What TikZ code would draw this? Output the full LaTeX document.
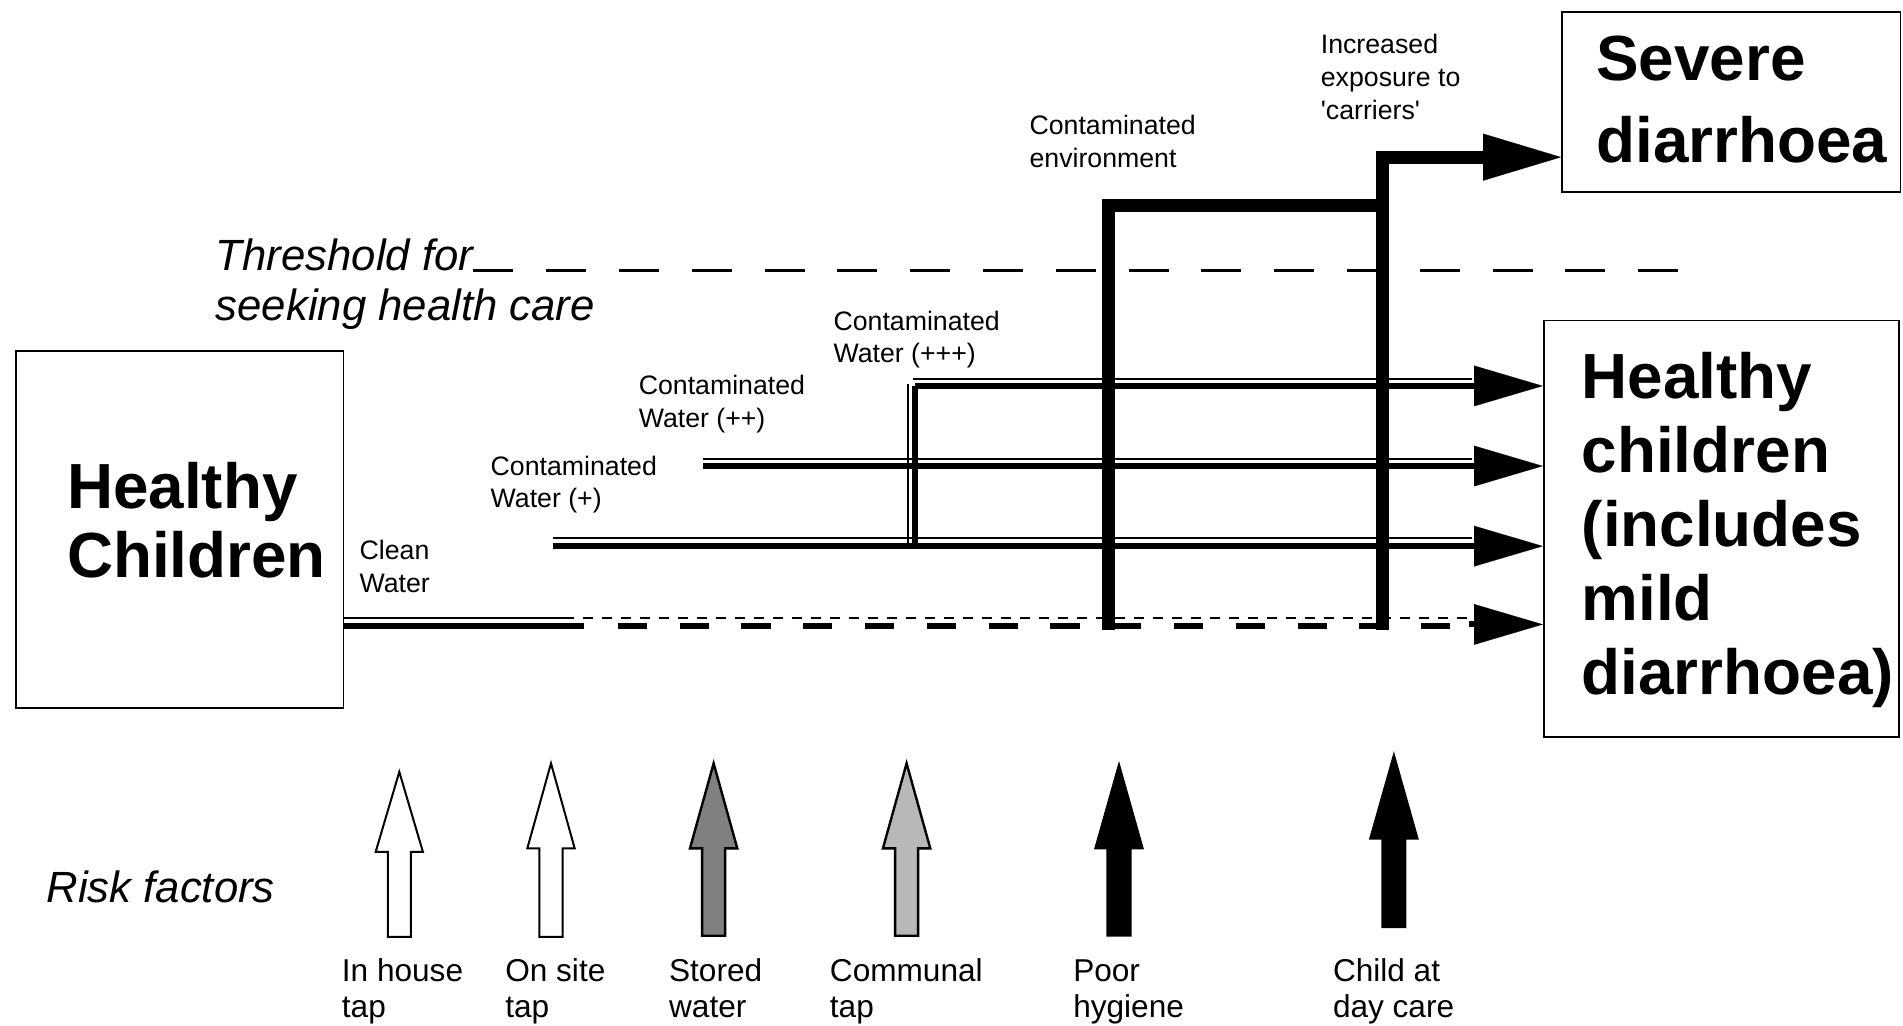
\documentclass[tikz,border=0pt]{standalone}
\usepackage{fontspec}
\setmainfont{Liberation Sans}
\usetikzlibrary{arrows.meta}
\newcommand\myu{0.60682pt}
\newcommand\riskarrow[5]{%
  \draw[#5] ({#1-9.5},#4) -- ({#1-9.5},#3) -- ({#1-19.5},#3) -- (#1,#2) -- ({#1+19.5},#3) -- ({#1+9.5},#3) -- ({#1+9.5},#4) -- cycle;}
\tikzset{
  boxn/.style={draw, line width=0.9pt, inner sep=0pt},
  bigtxt/.style={font=\fontsize{31.9pt}{#1}\selectfont\bfseries, align=left, inner sep=0pt, anchor=base west},
  smalltxt/.style={font=\fontsize{13.35pt}{16.4pt}\selectfont, align=left, inner sep=0pt, anchor=base west},
  labtxt/.style={font=\fontsize{15.8pt}{17.6pt}\selectfont, align=left, inner sep=0pt, anchor=base west},
  ittxt/.style={font=\fontsize{21.85pt}{25pt}\selectfont\itshape, align=left, inner sep=0pt, anchor=base west},
  thinln/.style={line width=0.9pt},
  thickln/.style={line width=3pt},
  stepln/.style={line width=6.5pt, line join=miter},
  hctip/.style={-{Triangle[length=34.4pt,width=20.3pt,line width=0.1pt]}},
  sevtip/.style={-{Triangle[length=39pt,width=23.5pt,line width=0.1pt]}},
  threshln/.style={line width=1.4pt, dash pattern=on 20pt off 16.4pt},
  riskw/.style={draw, line width=1pt, fill=white},
  riskg1/.style={draw, line width=1.2pt, fill=black!50},
  riskg2/.style={draw, line width=1.2pt, fill=black!28},
  riskb/.style={draw, line width=1pt, fill=black},
}
\begin{document}
\begin{tikzpicture}[x=\myu, y=-\myu]
\fill[white] (0,0) rectangle (1568,845);
\useasboundingbox (0,0) rectangle (1568,845);

% boxes
\node[boxn, minimum width={270*\myu}, minimum height={294.5*\myu}] (hcl) at (148,436.25) {};
\node[boxn, minimum width={279*\myu}, minimum height={148.4*\myu}] (sev) at (1426.5,83.8) {};
\node[boxn, minimum width={293*\myu}, minimum height={343*\myu}] (hcr) at (1418.5,435.5) {};

% (anchor = baseline of the last line)
\node[bigtxt=34.6pt] (hcltxt) at (55,476) {Healthy\\Children};
\node[bigtxt=41.3pt] (sevtxt) at (1315,134) {Severe\\diarrhoea};
\node[bigtxt=37pt] (hcrtxt) at (1303,572) {Healthy\\children\\(includes\\mild\\diarrhoea)};

% texts
\node[ittxt] (thr) at (177.5,264) {Threshold for\\seeking health care};
\node[ittxt] (risk) at (38,744) {Risk factors};
\node[smalltxt] (cenv) at (848,138) {Contaminated\\environment};
\node[smalltxt] (incr) at (1088,98.5) {Increased\\exposure to\\\textquotesingle carriers\textquotesingle};
\node[smalltxt] (lw3) at (686.5,299) {Contaminated\\Water (+++)};
\node[smalltxt] (lw2) at (526,352) {Contaminated\\Water (++)};
\node[smalltxt] (lw1) at (404,418.5) {Contaminated\\Water (+)};
\node[smalltxt] (lcw) at (296,488) {Clean\\Water};

\node[labtxt] (r1) at (281.4,838) {In house\\tap};
\node[labtxt] (r2) at (416,838) {On site\\tap};
\node[labtxt] (r3) at (551,838) {Stored\\water};
\node[labtxt] (r4) at (683.5,838) {Communal\\tap};
\node[labtxt] (r5) at (884,838) {Poor\\hygiene};
\node[labtxt] (r6) at (1098,838) {Child at\\day care};

% coordinates
\coordinate (cwa) at (465,509.5);
\coordinate (cwb) at (481,515.5);
\coordinate (cwd) at (509,515.5);
\coordinate (cwe) at (1213,515.5);
\coordinate (cwf) at (1213,509.5);
\coordinate (cwg) at (1210,514.5);
\coordinate (p1) at (456,450);   \coordinate (p1t) at (456,443.5);
\coordinate (p2) at (579,384);   \coordinate (p2t) at (579,378);
\coordinate (p3) at (754,318);   \coordinate (p3t) at (752,312);
\coordinate (vt) at (748,316);   \coordinate (vb) at (748,450);
\coordinate (s1) at (913.5,519); \coordinate (s2) at (913.5,169.6);
\coordinate (s3) at (1139,169.6); \coordinate (s4) at (1139,519);
\coordinate (s5) at (1139,129.5);
\coordinate (th1) at (390,223);  \coordinate (th2) at (1384,223);

% threshold line
\draw[threshln] (th1) -- (th2);

% clean water line
\draw[thinln] (hcl.east |- cwa) -- (cwa);
\draw[thickln] (hcl.east |- cwb) -- (cwb);
\draw[thinln, dash pattern=on 5pt off 4.5pt] (cwa) -- (cwf);
\draw[thickln, dash pattern=on 14.6pt off 16.3pt] (cwd) -- (cwe);
\draw[thickln, hctip] (cwg) -- (hcr.west |- cwg);

% contaminated water lines
\draw[thinln] (p1t) -- (p1t -| cwe);
\draw[thickln, hctip] (p1) -- (hcr.west |- p1);
\draw[thinln] (p2t) -- (p2t -| cwe);
\draw[thickln, hctip] (p2) -- (hcr.west |- p2);
\draw[thinln] (p3t) -- (p3t -| cwe);
\draw[thickln, hctip] (p3) -- (hcr.west |- p3);
\draw[thinln] (vt) -- (vb);
\draw[thickln] (p3) -- (p3 |- p1);

% step line to severe diarrhoea
\draw[stepln] (s1) -- (s2) -- (s3);
\draw[stepln, sevtip] (s4) -- (s5) -- (sev.west |- s5);

% risk factor arrows
\riskarrow{329}{636}{702}{772}{riskw}
\riskarrow{454}{629}{699}{772}{riskw}
\riskarrow{588}{629}{699}{771}{riskg1}
\riskarrow{747}{629}{699}{771}{riskg2}
\riskarrow{922}{630}{699}{771}{riskb}
\riskarrow{1148.5}{622}{691}{764}{riskb}
\end{tikzpicture}
\end{document}
